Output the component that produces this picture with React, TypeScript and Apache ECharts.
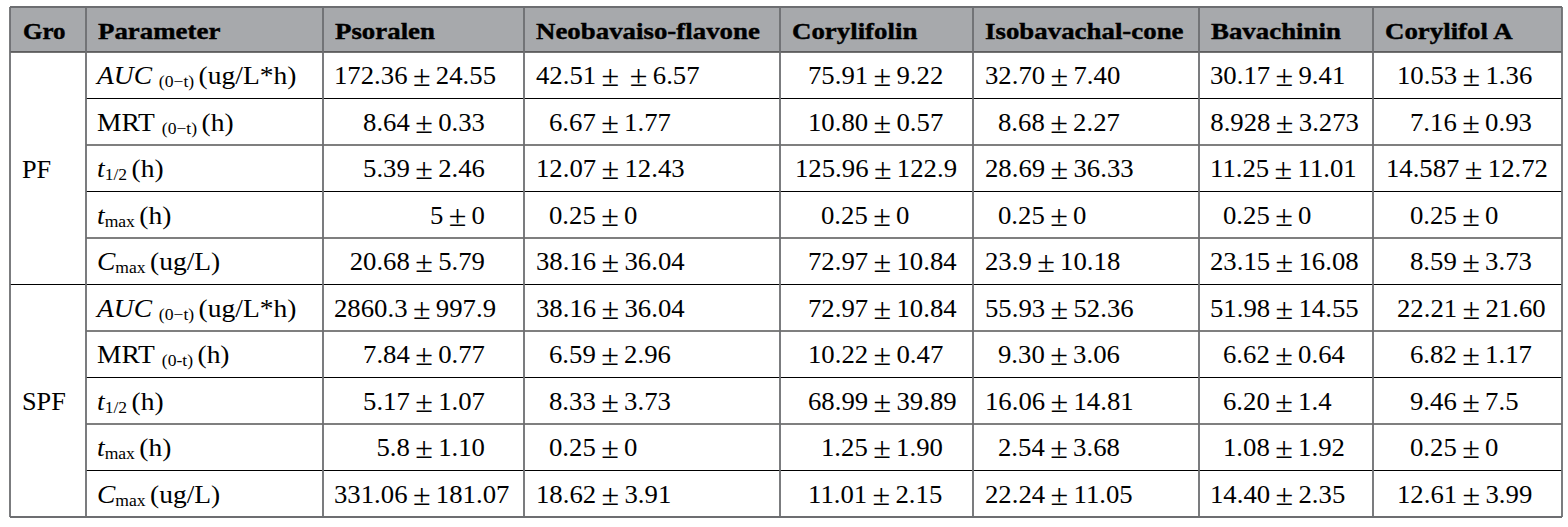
import React, { useEffect, useRef } from 'react';
import * as echarts from 'echarts';

// ---------- data ----------
const groups = ['PF', 'SPF'];
const headerGroup = 'Gro';
const headerParam = 'Parameter';
const compounds = ['Psoralen', 'Neobavaiso-flavone', 'Corylifolin', 'Isobavachal-cone', 'Bavachinin', 'Corylifol A'];

// rich-text parameter labels (i = italic, s = subscript, n = normal)
const pfParams = [
  '{i|AUC }{s|(0−t) }{n|(ug/L*h)}',
  '{n|MRT }{s|(0−t) }{n|(h)}',
  '{i|t}{s|1/2 }{n|(h)}',
  '{i|t}{s|max }{n|(h)}',
  '{i|C}{s|max }{n|(ug/L)}',
];
const spfParams = [
  '{i|AUC }{s|(0−t) }{n|(ug/L*h)}',
  '{n|MRT }{s|(0-t) }{n|(h)}',
  '{i|t}{s|1/2 }{n|(h)}',
  '{i|t}{s|max }{n|(h)}',
  '{i|C}{s|max }{n|(ug/L)}',
];

// PF values, one array per compound (rows: AUC, MRT, t1/2, tmax, Cmax)
const pfPsoralen = ['172.36 ± 24.55', '8.64 ± 0.33', '5.39 ± 2.46', '5 ± 0', '20.68 ± 5.79'];
const pfNeobavaisoflavone = ['42.51 ± ± 6.57', '6.67 ± 1.77', '12.07 ± 12.43', '0.25 ± 0', '38.16 ± 36.04'];
const pfCorylifolin = ['75.91 ± 9.22', '10.80 ± 0.57', '125.96 ± 122.9', '0.25 ± 0', '72.97 ± 10.84'];
const pfIsobavachalcone = ['32.70 ± 7.40', '8.68 ± 2.27', '28.69 ± 36.33', '0.25 ± 0', '23.9 ± 10.18'];
const pfBavachinin = ['30.17 ± 9.41', '8.928 ± 3.273', '11.25 ± 11.01', '0.25 ± 0', '23.15 ± 16.08'];
const pfCorylifolA = ['10.53 ± 1.36', '7.16 ± 0.93', '14.587 ± 12.72', '0.25 ± 0', '8.59 ± 3.73'];

// SPF values
const spfPsoralen = ['2860.3 ± 997.9', '7.84 ± 0.77', '5.17 ± 1.07', '5.8 ± 1.10', '331.06 ± 181.07'];
const spfNeobavaisoflavone = ['38.16 ± 36.04', '6.59 ± 2.96', '8.33 ± 3.73', '0.25 ± 0', '18.62 ± 3.91'];
const spfCorylifolin = ['72.97 ± 10.84', '10.22 ± 0.47', '68.99 ± 39.89', '1.25 ± 1.90', '11.01 ± 2.15'];
const spfIsobavachalcone = ['55.93 ± 52.36', '9.30 ± 3.06', '16.06 ± 14.81', '2.54 ± 3.68', '22.24 ± 11.05'];
const spfBavachinin = ['51.98 ± 14.55', '6.62 ± 0.64', '6.20 ± 1.4', '1.08 ± 1.92', '14.40 ± 2.35'];
const spfCorylifolA = ['22.21 ± 21.60', '6.82 ± 1.17', '9.46 ± 7.5', '0.25 ± 0', '12.61 ± 3.99'];

const pfValues = [pfPsoralen, pfNeobavaisoflavone, pfCorylifolin, pfIsobavachalcone, pfBavachinin, pfCorylifolA];
const spfValues = [spfPsoralen, spfNeobavaisoflavone, spfCorylifolin, spfIsobavachalcone, spfBavachinin, spfCorylifolA];

// ---------- layout / style ----------
const W = 1568;
const H = 527;
const colEdges = [10, 86, 323, 524, 780, 973, 1199, 1373, 1562];
const TOP = 7;
const HEAD_BOTTOM = 52;
const ROW_H = 46.5;
const HEADER_BG = '#a7a9ac';
const VLINE = '#6d6e71';
const FONT = '"Liberation Serif", "Times New Roman", serif';
const BODY_SIZE = 25;
const HEAD_SIZE = 24;
const SUB_SIZE = 16;
const PM_SIZE = 30;
const PM_PAD = 5;
const BODY_SCALE = 1.07;
const PARAM_SCALE = 1.1;
const HEAD_SCALE = 1.12;
const valueInset = [11, 12, 15, 12, 11, 24];
const RIGHT_INSET = 14;
const valueAlign = ['right', 'left', 'left', 'left', 'left', 'left'];
const rightEdge = [485, 0, 0, 0, 0, 0];
const refDigits = [3, 2, 3, 2, 2, 2];
const DIGIT_W = 13;

let measureCtx: CanvasRenderingContext2D | null = null;
function measure(text: string, size: number) {
  if (!measureCtx) measureCtx = document.createElement('canvas').getContext('2d');
  measureCtx!.font = `${size}px ${FONT}`;
  return measureCtx!.measureText(text).width;
}

function intDigits(s: string) {
  return s.split(' ')[0].split('.')[0].length;
}
function valueRich(t: string) {
  return t.split(' ').map((tok) => (tok === '±' ? '{pm|±}' : `{n|${tok}}`)).join('');
}
function valueWidth(t: string) {
  return t
    .split(' ')
    .reduce((w, tok) => w + (tok === '±' ? measure('±', PM_SIZE) + 2 * PM_PAD : measure(tok, BODY_SIZE)), 0);
}

function buildGraphic() {
  const els: any[] = [];
  const left = colEdges[0];
  const right = colEdges[colEdges.length - 1];
  const nRows = groups.length * pfParams.length;
  const bottom = HEAD_BOTTOM + nRows * ROW_H;

  els.push({ type: 'rect', shape: { x: 0, y: 0, width: W, height: H }, style: { fill: '#ffffff' }, silent: true });
  els.push({ type: 'rect', shape: { x: left, y: TOP, width: right - left, height: HEAD_BOTTOM - TOP }, style: { fill: HEADER_BG } });

  // horizontal row lines (black)
  groups.forEach((g, gi) => {
    const n = gi === 0 ? pfParams.length : spfParams.length;
    for (let r = 1; r < n; r++) {
      const y = HEAD_BOTTOM + (gi * pfParams.length + r) * ROW_H;
      els.push({ type: 'line', shape: { x1: colEdges[1], y1: y, x2: right, y2: y }, style: { stroke: '#000', lineWidth: 1.2 } });
    }
  });
  const gy = HEAD_BOTTOM + pfParams.length * ROW_H;
  els.push({ type: 'line', shape: { x1: left, y1: gy, x2: right, y2: gy }, style: { stroke: '#000', lineWidth: 1.2 } });
  els.push({ type: 'line', shape: { x1: left, y1: HEAD_BOTTOM, x2: right, y2: HEAD_BOTTOM }, style: { stroke: '#444', lineWidth: 1.5 } });

  colEdges.forEach((x) => {
    els.push({ type: 'line', shape: { x1: x, y1: TOP, x2: x, y2: bottom }, style: { stroke: VLINE, lineWidth: 1.8 } });
  });
  els.push({ type: 'line', shape: { x1: left, y1: TOP, x2: right, y2: TOP }, style: { stroke: VLINE, lineWidth: 1.8 } });
  els.push({ type: 'line', shape: { x1: left, y1: bottom, x2: right, y2: bottom }, style: { stroke: VLINE, lineWidth: 1.8 } });

  const headY = (TOP + HEAD_BOTTOM) / 2 + 1;
  const headTexts = [headerGroup, headerParam, ...compounds];
  headTexts.forEach((t, i) => {
    els.push({
      type: 'text',
      x: colEdges[i] + (i === 0 ? 13 : 12),
      y: headY,
      scaleX: i === 0 ? 1.04 : HEAD_SCALE,
      style: {
        text: t, x: 0, y: 0,
        fontFamily: FONT, fontSize: HEAD_SIZE, fontWeight: 'bold', fill: '#000',
        stroke: '#000', lineWidth: 0.4,
        align: 'left', verticalAlign: 'middle', textAlign: 'left', textVerticalAlign: 'middle',
      },
    });
  });

  const rich = {
    i: { fontFamily: FONT, fontSize: BODY_SIZE, fontStyle: 'italic', fill: '#000', verticalAlign: 'middle' },
    n: { fontFamily: FONT, fontSize: BODY_SIZE, fill: '#000', verticalAlign: 'middle' },
    s: { fontFamily: FONT, fontSize: SUB_SIZE, fill: '#000', verticalAlign: 'middle', padding: [12, 0, 0, 0] },
  };
  const valRich = {
    n: { fontFamily: FONT, fontSize: BODY_SIZE, fill: '#000', verticalAlign: 'middle' },
    pm: { fontFamily: FONT, fontSize: PM_SIZE, fill: '#000', verticalAlign: 'middle', padding: [0, PM_PAD, 0, PM_PAD] },
  };

  groups.forEach((g, gi) => {
    const params = gi === 0 ? pfParams : spfParams;
    const values = gi === 0 ? pfValues : spfValues;
    const y0 = HEAD_BOTTOM + gi * pfParams.length * ROW_H;
    els.push({
      type: 'text',
      x: 22,
      y: y0 + (params.length * ROW_H) / 2 + 1,
      scaleX: 1.05,
      style: {
        text: g, x: 0, y: 0, fontFamily: FONT, fontSize: BODY_SIZE, fill: '#000',
        align: 'left', verticalAlign: 'middle', textAlign: 'left', textVerticalAlign: 'middle',
      },
    });
    params.forEach((p, r) => {
      const cy = y0 + (r + 0.5) * ROW_H + 1;
      els.push({
        type: 'text',
        x: colEdges[1] + 11,
        y: cy,
        scaleX: PARAM_SCALE,
        style: {
          text: p, x: 0, y: 0, rich, fontFamily: FONT, fontSize: BODY_SIZE, fill: '#000',
          align: 'left', verticalAlign: 'middle', textAlign: 'left', textVerticalAlign: 'middle',
        },
      });
      values.forEach((col, c) => {
        const t = col[r];
        const minX = colEdges[c + 2] + valueInset[c];
        const w = valueWidth(t) * BODY_SCALE;
        let x: number;
        if (valueAlign[c] === 'right') {
          x = Math.max(minX, rightEdge[c] - w);
        } else {
          x = minX + Math.max(0, refDigits[c] - intDigits(t)) * DIGIT_W;
          x = Math.min(x, colEdges[c + 3] - RIGHT_INSET - w);
        }
        els.push({
          type: 'text',
          x,
          y: cy,
          scaleX: BODY_SCALE,
          style: {
            text: valueRich(t), x: 0, y: 0, rich: valRich, fontFamily: FONT, fontSize: BODY_SIZE, fill: '#000',
            align: 'left', verticalAlign: 'middle', textAlign: 'left', textVerticalAlign: 'middle',
          },
        });
      });
    });
  });

  return els;
}

export default function App() {
  const ref = useRef<HTMLDivElement>(null);
  useEffect(() => {
    if (!ref.current) return;
    const chart = echarts.init(ref.current, undefined, { renderer: 'svg' });
    chart.setOption({
      animation: false,
      backgroundColor: '#ffffff',
      graphic: { elements: buildGraphic() },
    });
    return () => chart.dispose();
  }, []);
  return (
    <div
      ref={ref}
      style={{ position: 'absolute', left: 0, top: 0, width: W, height: H, background: '#fff' }}
    />
  );
}
